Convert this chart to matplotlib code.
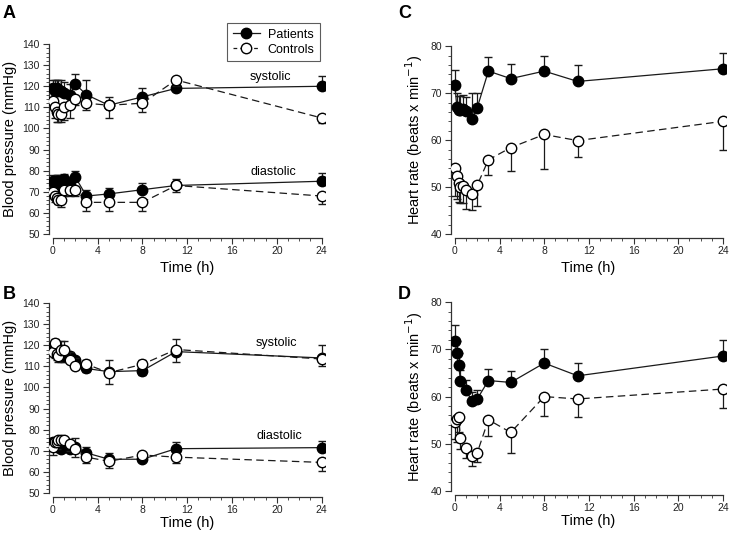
import matplotlib
matplotlib.use('Agg')
import matplotlib.pyplot as plt
from matplotlib.ticker import MultipleLocator
from matplotlib.lines import Line2D
import numpy as np

plt.rcParams['font.family'] = ['Liberation Sans', 'DejaVu Sans']

# time points (h)
t = [0, 0.17, 0.33, 0.5, 0.75, 1, 1.5, 2, 3, 5, 8, 11, 24]
t_d = [0, 0.17, 0.33, 0.5, 1, 1.5, 2, 3, 5, 8, 11, 24]

# A: blood pressure
a_sys_pat = [119, 118, 119, 118, 118, 117, 116, 121, 116, 111, 115, 119, 120]
a_sys_pat_err = [4, 5, 4, 5, 5, 5, 5, 5, 7, 4, 4, 3, 5]
a_sys_con = [113, 110, 108, 107, 107, 110, 111, 114, 112, 111, 112, 123, 105]
a_sys_con_err = [3, 5, 5, 4, 4, 6, 6, 3, 3, 6, 4, 3, 2.5]
a_dia_pat = [75, 73, 75, 75, 75, 76, 73, 77, 68, 69, 71, 73, 75]
a_dia_pat_err = [3, 3, 3, 3, 3, 2.5, 3, 3, 3, 3, 3, 3, 4]
a_dia_con = [70, 68, 67, 66, 66, 71, 71, 71, 65, 65, 65, 73, 68]
a_dia_con_err = [3, 3, 2, 2, 3, 3, 3, 3, 4, 4, 4, 3, 4]

# B: blood pressure
b_sys_pat = [119, 118, 117, 116, 116, 115, 115, 113, 109, 107.5, 108, 117, 114]
b_sys_pat_err = [3, 4, 4, 4, 4, 3, 3, 3, 1.5, 6, 2, 5, 4]
b_sys_con = [117, 121, 116, 115, 118, 118, 113, 110, 111, 107, 111, 118, 113.5]
b_sys_con_err = [3, 2, 4, 4, 4, 4, 4, 4, 2, 6, 2, 5, 6.5]
b_dia_pat = [74, 73, 72, 73, 71, 72, 71, 72, 69, 66, 66, 71, 71.5]
b_dia_pat_err = [2, 2, 2, 2, 2, 3, 2, 4, 3, 3, 1, 3, 3]
b_dia_con = [72, 74, 74, 75, 75, 75, 73, 71, 67, 65, 68, 67, 64.5]
b_dia_con_err = [4, 3, 3, 2, 2, 2, 3, 4, 3, 3, 1, 3, 4]

# C: heart rate
c_pat = [71.7, 67.1, 66.4, 66.4, 66.6, 66.1, 64.6, 66.9, 74.7, 73.1, 74.7, 72.5, 75.2]
c_pat_err = [3.3, 3, 3, 3, 3, 3, 5.5, 3.2, 3, 3.2, 3.3, 3.4, 3.3]
c_con = [54.1, 52.4, 50.8, 50.1, 50.2, 49.3, 48.6, 50.4, 55.8, 58.4, 61.2, 59.9, 64]
c_con_err = [6, 5, 4, 3.5, 3.5, 4, 3.5, 4.5, 3.3, 4.9, 7.4, 3.6, 6.1]

# D: heart rate
d_pat = [71.7, 69.2, 66.7, 63.4, 61.5, 59.0, 59.5, 63.4, 63.0, 67.1, 64.4, 68.6]
d_pat_err = [3.5, 2.5, 2.5, 2.3, 2, 2, 2, 2.5, 2.4, 2.9, 2.8, 3.3]
d_con = [54.7, 55.3, 55.6, 51.3, 49.2, 47.4, 48.1, 55.1, 52.4, 60.0, 59.5, 61.6]
d_con_err = [3.7, 5, 3, 2.5, 2.2, 2.2, 2, 3.4, 4.3, 4.1, 3.9, 4.1]

DASH = (0, (6, 3.5))


def series(ax, x, y, err, filled, up):
    err = np.asarray(err, dtype=float)
    z = np.zeros_like(err)
    yerr = [z, err] if up else [err, z]
    if filled:
        mfc, ls, zo = 'black', '-', 3
    else:
        mfc, ls, zo = 'white', DASH, 4
    ax.errorbar(x, y, yerr=yerr, fmt='o', color='#1a1a1a', mec='black', mfc=mfc,
                ls=ls, ms=7.5, mew=1.0, lw=0.9, elinewidth=0.9, capsize=3.2,
                capthick=0.9, zorder=zo)


def style_axes(ax, ylo, yhi, ylabel, xpad):
    ax.set_xlim(-0.35, 24.3)
    ax.set_ylim(ylo, yhi)
    ax.spines['top'].set_visible(False)
    ax.spines['right'].set_visible(False)
    ax.spines['bottom'].set_bounds(0, 24)
    ax.spines['bottom'].set_position(('outward', 3))
    ax.spines['left'].set_bounds(ylo, yhi)
    for s in ('left', 'bottom'):
        ax.spines[s].set_linewidth(0.9)
        ax.spines[s].set_color('#333333')
    ax.xaxis.set_major_locator(MultipleLocator(4))
    ax.xaxis.set_minor_locator(MultipleLocator(1))
    ax.yaxis.set_major_locator(MultipleLocator(10))
    ax.yaxis.set_minor_locator(MultipleLocator(2))
    ax.tick_params(which='major', length=4, width=0.8, labelsize=7.5,
                   colors='#333333', labelcolor='#222222', pad=2.5)
    ax.tick_params(axis='x', which='major', pad=1.5)
    ax.tick_params(which='minor', length=2, width=0.6, colors='#333333')
    ax.set_xlabel('Time (h)', fontsize=10.5, labelpad=xpad)
    ax.set_ylabel(ylabel, fontsize=10.5, labelpad=4)


fig = plt.figure(figsize=(7.3, 5.35), dpi=100)
axA = fig.add_axes([0.0671, 0.5626, 0.378, 0.355])
axB = fig.add_axes([0.0671, 0.0785, 0.378, 0.355])
axC = fig.add_axes([0.6178, 0.5626, 0.377, 0.351])
axD = fig.add_axes([0.6178, 0.0822, 0.377, 0.353])

bp_label = 'Blood pressure (mmHg)'
hr_label = 'Heart rate (beats x min$^{-1}$)'

# A
series(axA, t, a_sys_pat, a_sys_pat_err, True, True)
series(axA, t, a_dia_pat, a_dia_pat_err, True, True)
series(axA, t, a_sys_con, a_sys_con_err, False, False)
series(axA, t, a_dia_con, a_dia_con_err, False, False)
style_axes(axA, 50, 140, bp_label, 3.5)
axA.text(19.4, 124.4, 'systolic', fontsize=9, ha='center', va='center')
axA.text(19.7, 79.4, 'diastolic', fontsize=9, ha='center', va='center')
handles = [Line2D([], [], color='#1a1a1a', lw=0.9, marker='o', ms=7.5,
                  mfc='black', mec='black'),
           Line2D([], [], color='#1a1a1a', lw=0.9, ls=(0, (3, 2.5)), marker='o',
                  ms=7.5, mfc='white', mec='black')]
leg = axA.legend(handles, ['Patients', 'Controls'], loc='upper left',
                 bbox_to_anchor=(0.311, 0.957), bbox_transform=fig.transFigure,
                 fontsize=9, frameon=True, fancybox=False, handlelength=2.2,
                 handletextpad=0.6, borderpad=0.45, labelspacing=0.25,
                 edgecolor='#333333', borderaxespad=0)
leg.get_frame().set_linewidth(0.8)

# B
series(axB, t, b_sys_pat, b_sys_pat_err, True, False)
series(axB, t, b_dia_pat, b_dia_pat_err, True, True)
series(axB, t, b_sys_con, b_sys_con_err, False, True)
series(axB, t, b_dia_con, b_dia_con_err, False, False)
style_axes(axB, 50, 140, bp_label, 1)
axB.text(20.0, 121, 'systolic', fontsize=9, ha='center', va='center')
axB.text(20.2, 77.2, 'diastolic', fontsize=9, ha='center', va='center')

# C
series(axC, t, c_pat, c_pat_err, True, True)
series(axC, t, c_con, c_con_err, False, False)
style_axes(axC, 40, 80, hr_label, 3.5)

# D
series(axD, t_d, d_pat, d_pat_err, True, True)
series(axD, t_d, d_con, d_con_err, False, False)
style_axes(axD, 40, 80, hr_label, 1)

for x, y, s in [(0.004, 0.99, 'A'), (0.004, 0.465, 'B'),
                (0.545, 0.99, 'C'), (0.545, 0.465, 'D')]:
    fig.text(x, y, s, fontsize=13, fontweight='bold', va='top', ha='left')

fig.savefig('out.png', dpi=100)
